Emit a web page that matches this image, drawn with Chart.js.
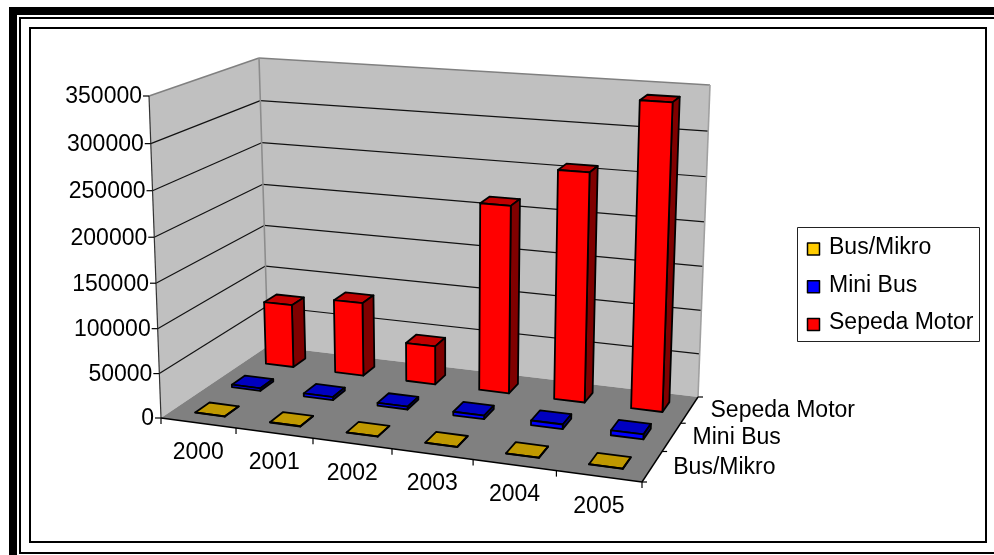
<!DOCTYPE html>
<html>
<head>
<meta charset="utf-8">
<title>Kendaraan 2000-2005</title>
<script src="https://cdn.jsdelivr.net/npm/chart.js@4"></script>
<style>
  html, body { margin: 0; background: #fff; }
  canvas { display: block; }
</style>
</head>
<body>
<canvas id="vehicleChart" width="994" height="555"></canvas>
<script>
const years = ['2000', '2001', '2002', '2003', '2004', '2005'];
const seriesNames = ['Bus/Mikro', 'Mini Bus', 'Sepeda Motor'];
const busMikro = [300, 300, 300, 300, 300, 300];
const miniBus = [3000, 3500, 3200, 4000, 5200, 5500];
const sepedaMotor = [75000, 86500, 45000, 215000, 259000, 340500];

const frontColors = ['#FFCC00', '#0000FF', '#FF0000'];
const topColors = ['#C09900', '#0000C0', '#C00000'];
const sideColors = ['#806600', '#000080', '#800000'];

const FONT = '23px "Liberation Sans", Arial, sans-serif';

/* corners of the plot box on screen: floor, then ceiling (front/back, left/right) */
const box = {
  fl: [161, 418], fr: [642, 482], bl: [268, 346], br: [698, 397],
  tfl: [149, 96], tfr: [652, 132], tbl: [259, 58], tbr: [710, 85]
};
/* perspective foreshortening along each axis */
const persp = (t, k) => t * k / (1 + t * (k - 1));

function project(u, v, w) {
  const a = persp(u, 0.924), b = persp(v, 1.12), c = persp(w, 0.96);
  const mix = (i) => {
    const floor = (1 - b) * ((1 - a) * box.fl[i] + a * box.fr[i]) + b * ((1 - a) * box.bl[i] + a * box.br[i]);
    const ceil = (1 - b) * ((1 - a) * box.tfl[i] + a * box.tfr[i]) + b * ((1 - a) * box.tbl[i] + a * box.tbr[i]);
    return (1 - c) * floor + c * ceil;
  };
  return [mix(0), mix(1)];
}

function poly(ctx, pts, fill, stroke, lineWidth) {
  ctx.beginPath();
  pts.forEach((p, i) => (i ? ctx.lineTo(p[0], p[1]) : ctx.moveTo(p[0], p[1])));
  ctx.closePath();
  if (fill) { ctx.fillStyle = fill; ctx.fill(); }
  if (stroke) { ctx.strokeStyle = stroke; ctx.lineWidth = lineWidth; ctx.stroke(); }
}

function line(ctx, a, b, color, width) {
  ctx.beginPath();
  ctx.moveTo(a[0], a[1]);
  ctx.lineTo(b[0], b[1]);
  ctx.strokeStyle = color;
  ctx.lineWidth = width;
  ctx.stroke();
}

function drawFrame(ctx) {
  ctx.fillStyle = '#000';
  ctx.fillRect(9, 7, 8, 548);
  ctx.fillRect(9, 7, 985, 8);
  ctx.fillRect(19, 17, 975, 2);
  ctx.fillRect(19, 17, 2, 537);
  ctx.fillRect(19, 552, 975, 2);
  ctx.strokeStyle = '#000';
  ctx.lineWidth = 2;
  ctx.strokeRect(30, 28, 956, 514);
}

function drawWalls(ctx, yScale, area) {
  const height = (value) => (area.bottom - yScale.getPixelForValue(value)) / area.height;
  poly(ctx, [project(0, 0, 0), project(0, 1, 0), project(0, 1, 1), project(0, 0, 1)], '#C0C0C0');
  poly(ctx, [project(0, 1, 0), project(1, 1, 0), project(1, 1, 1), project(0, 1, 1)], '#C0C0C0');
  poly(ctx, [project(0, 0, 0), project(1, 0, 0), project(1, 1, 0), project(0, 1, 0)], '#808080');

  yScale.ticks.forEach((tick) => {
    const w = height(tick.value);
    if (w <= 0 || w >= 1) return;
    line(ctx, project(0, 0, w), project(0, 1, w), '#111', 1.2);
    line(ctx, project(0, 1, w), project(1, 1, w), '#111', 1.2);
  });

  line(ctx, project(0, 0, 1), project(0, 1, 1), '#808080', 1.6);
  line(ctx, project(0, 1, 1), project(1, 1, 1), '#808080', 1.6);
  line(ctx, project(0, 1, 0), project(0, 1, 1), '#8C8C8C', 1.6);
  line(ctx, project(1, 1, 0), project(1, 1, 1), '#A0A0A0', 1.6);
}

function drawAxes(ctx, scales, area) {
  const { x, y, depth } = scales;
  ctx.font = FONT;
  ctx.fillStyle = '#000';

  line(ctx, project(0, 0, 0), project(0, 0, 1), '#333', 1.2);
  line(ctx, project(0, 0, 0), project(1, 0, 0), '#000', 1.4);
  line(ctx, project(1, 0, 0), project(1, 1, 0), '#000', 1.4);

  /* value axis */
  ctx.textAlign = 'right';
  ctx.textBaseline = 'middle';
  y.ticks.forEach((tick) => {
    const w = (area.bottom - y.getPixelForValue(tick.value)) / area.height;
    const p = project(0, 0, w);
    line(ctx, [p[0] - 6, p[1]], p, '#000', 1.2);
    ctx.fillText(tick.label, p[0] - 7, p[1] + 1);
  });

  /* year axis: edge marks plus a label under each cell */
  const cell = 1 / x.ticks.length;
  ctx.textAlign = 'center';
  x.ticks.forEach((tick, i) => {
    const mid = (x.getPixelForValue(i) - area.left) / area.width;
    const p = project(mid, 0, 0);
    ctx.fillText(tick.label, p[0], p[1] + 30);
    const edge = project(mid - cell / 2, 0, 0);
    line(ctx, edge, [edge[0], edge[1] + 6], '#000', 1.2);
  });
  const end = project(1, 0, 0);
  line(ctx, end, [end[0], end[1] + 6], '#000', 1.2);

  /* series axis along the right side of the floor */
  const row = 1 / depth.ticks.length;
  ctx.textAlign = 'left';
  depth.ticks.forEach((tick, i) => {
    const mid = (depth.getPixelForValue(i) - area.left) / area.width;
    const p = project(1, mid, 0);
    ctx.fillText(tick.label, p[0] + 21, p[1] + 1);
    const edge = project(1, mid - row / 2, 0);
    line(ctx, edge, [edge[0] + 5, edge[1]], '#000', 1.2);
  });
  const back = project(1, 1, 0);
  line(ctx, back, [back[0] + 5, back[1]], '#000', 1.2);
}

function drawBars(chart) {
  const { ctx, chartArea: area, scales } = chart;
  const halfDepth = 0.19 / scales.depth.ticks.length;

  for (let s = chart.data.datasets.length - 1; s >= 0; s--) {
    const centre = (scales.depth.getPixelForValue(s) - area.left) / area.width;
    const v0 = centre - halfDepth, v1 = centre + halfDepth;
    chart.getDatasetMeta(s).data.forEach((bar) => {
      const u0 = (bar.x - bar.width / 2 - area.left) / area.width;
      const u1 = (bar.x + bar.width / 2 - area.left) / area.width;
      const w = (area.bottom - bar.y) / area.height;
      ctx.lineJoin = 'round';
      poly(ctx, [project(u0, v0, w), project(u1, v0, w), project(u1, v1, w), project(u0, v1, w)], topColors[s], '#000', 1.8);
      poly(ctx, [project(u1, v0, 0), project(u1, v1, 0), project(u1, v1, w), project(u1, v0, w)], sideColors[s], '#000', 1.8);
      poly(ctx, [project(u0, v0, 0), project(u1, v0, 0), project(u1, v0, w), project(u0, v0, w)], frontColors[s], '#000', 1.8);
    });
  }
}

function drawLegend(chart) {
  const { ctx } = chart;
  ctx.strokeStyle = '#222';
  ctx.lineWidth = 1;
  ctx.strokeRect(797.5, 227.5, 182, 114);
  ctx.font = FONT;
  ctx.textAlign = 'left';
  ctx.textBaseline = 'middle';
  chart.data.datasets.forEach((set, i) => {
    const top = 243 + i * 37.7;
    ctx.fillStyle = set.backgroundColor;
    ctx.fillRect(807.5, top, 12, 12);
    ctx.strokeStyle = '#000';
    ctx.lineWidth = 1.5;
    ctx.strokeRect(807.5, top, 12, 12);
    ctx.fillStyle = '#000';
    ctx.fillText(set.label, 829, top + 4.5);
  });
}

/* the bars are laid out by the bar controller, then painted as boxes in the projected plot box */
const box3d = {
  id: 'box3d',
  beforeDatasetsDraw(chart) {
    const { ctx, chartArea, scales } = chart;
    ctx.save();
    ctx.fillStyle = '#fff';
    ctx.fillRect(0, 0, chart.width, chart.height);
    drawFrame(ctx);
    drawWalls(ctx, scales.y, chartArea);
    drawAxes(ctx, scales, chartArea);
    drawBars(chart);
    drawLegend(chart);
    ctx.restore();
    return false;
  }
};

new Chart(document.getElementById('vehicleChart'), {
  type: 'bar',
  data: {
    labels: years,
    datasets: [
      { label: seriesNames[0], data: busMikro, backgroundColor: frontColors[0] },
      { label: seriesNames[1], data: miniBus, backgroundColor: frontColors[1] },
      { label: seriesNames[2], data: sepedaMotor, backgroundColor: frontColors[2] }
    ]
  },
  options: {
    responsive: false,
    animation: false,
    events: [],
    datasets: { bar: { grouped: false, categoryPercentage: 1, barPercentage: 0.4 } },
    plugins: { legend: { display: false }, tooltip: { enabled: false } },
    scales: {
      x: { display: false, ticks: { autoSkip: false } },
      y: {
        display: false,
        min: 0,
        max: 350000,
        ticks: { stepSize: 50000, callback: (value) => String(value) }
      },
      depth: {
        type: 'category',
        axis: 'x',
        labels: seriesNames,
        offset: true,
        display: false,
        ticks: { autoSkip: false }
      }
    }
  },
  plugins: [box3d]
});
</script>
</body>
</html>
